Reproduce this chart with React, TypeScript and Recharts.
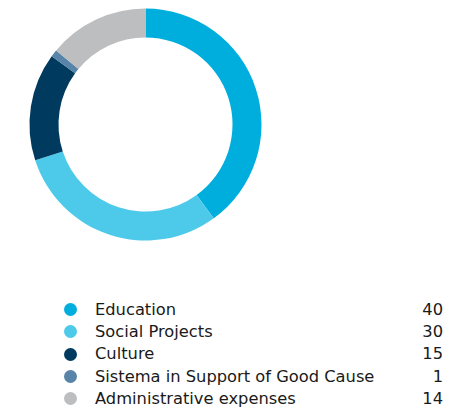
import React from 'react';
import { PieChart, Pie, Cell } from 'recharts';

const categories = ['Education', 'Social Projects', 'Culture', 'Sistema in Support of Good Cause', 'Administrative expenses'];
const values = [40, 30, 15, 1, 14];
const colors = ['#00AEDD', '#4DC9E9', '#003A5E', '#5784A8', '#BDBEC0'];

const data = categories.map((name, i) => ({ name, value: values[i] }));

const LegendBlock = () => (
  <div style={{ position: 'absolute', left: 64, top: 299, width: 379, fontFamily: '"DejaVu Sans", sans-serif', fontSize: 16.3, color: '#1a1a1a' }}>
    {data.map((d, i) => (
      <div key={d.name} style={{ position: 'relative', height: 22.2, lineHeight: '22.2px' }}>
        <span style={{ position: 'absolute', left: 0, top: 4.2, width: 13, height: 13, borderRadius: '50%', background: colors[i] }} />
        <span style={{ position: 'absolute', left: 31, whiteSpace: 'nowrap' }}>{d.name}</span>
        <span style={{ position: 'absolute', right: 0 }}>{d.value}</span>
      </div>
    ))}
  </div>
);

export default function App() {
  return (
    <div style={{ position: 'absolute', left: 0, top: 0, width: 455, height: 410 }}>
      <PieChart width={455} height={410} margin={{ top: 0, right: 0, bottom: 0, left: 0 }}>
        <Pie
          data={data}
          dataKey="value"
          nameKey="name"
          cx={145.5}
          cy={124.5}
          innerRadius={87}
          outerRadius={116}
          startAngle={90}
          endAngle={-270}
          stroke="none"
          isAnimationActive={false}
        >
          {data.map((d, i) => (
            <Cell key={d.name} fill={colors[i]} />
          ))}
        </Pie>
      </PieChart>
      <LegendBlock />
    </div>
  );
}
